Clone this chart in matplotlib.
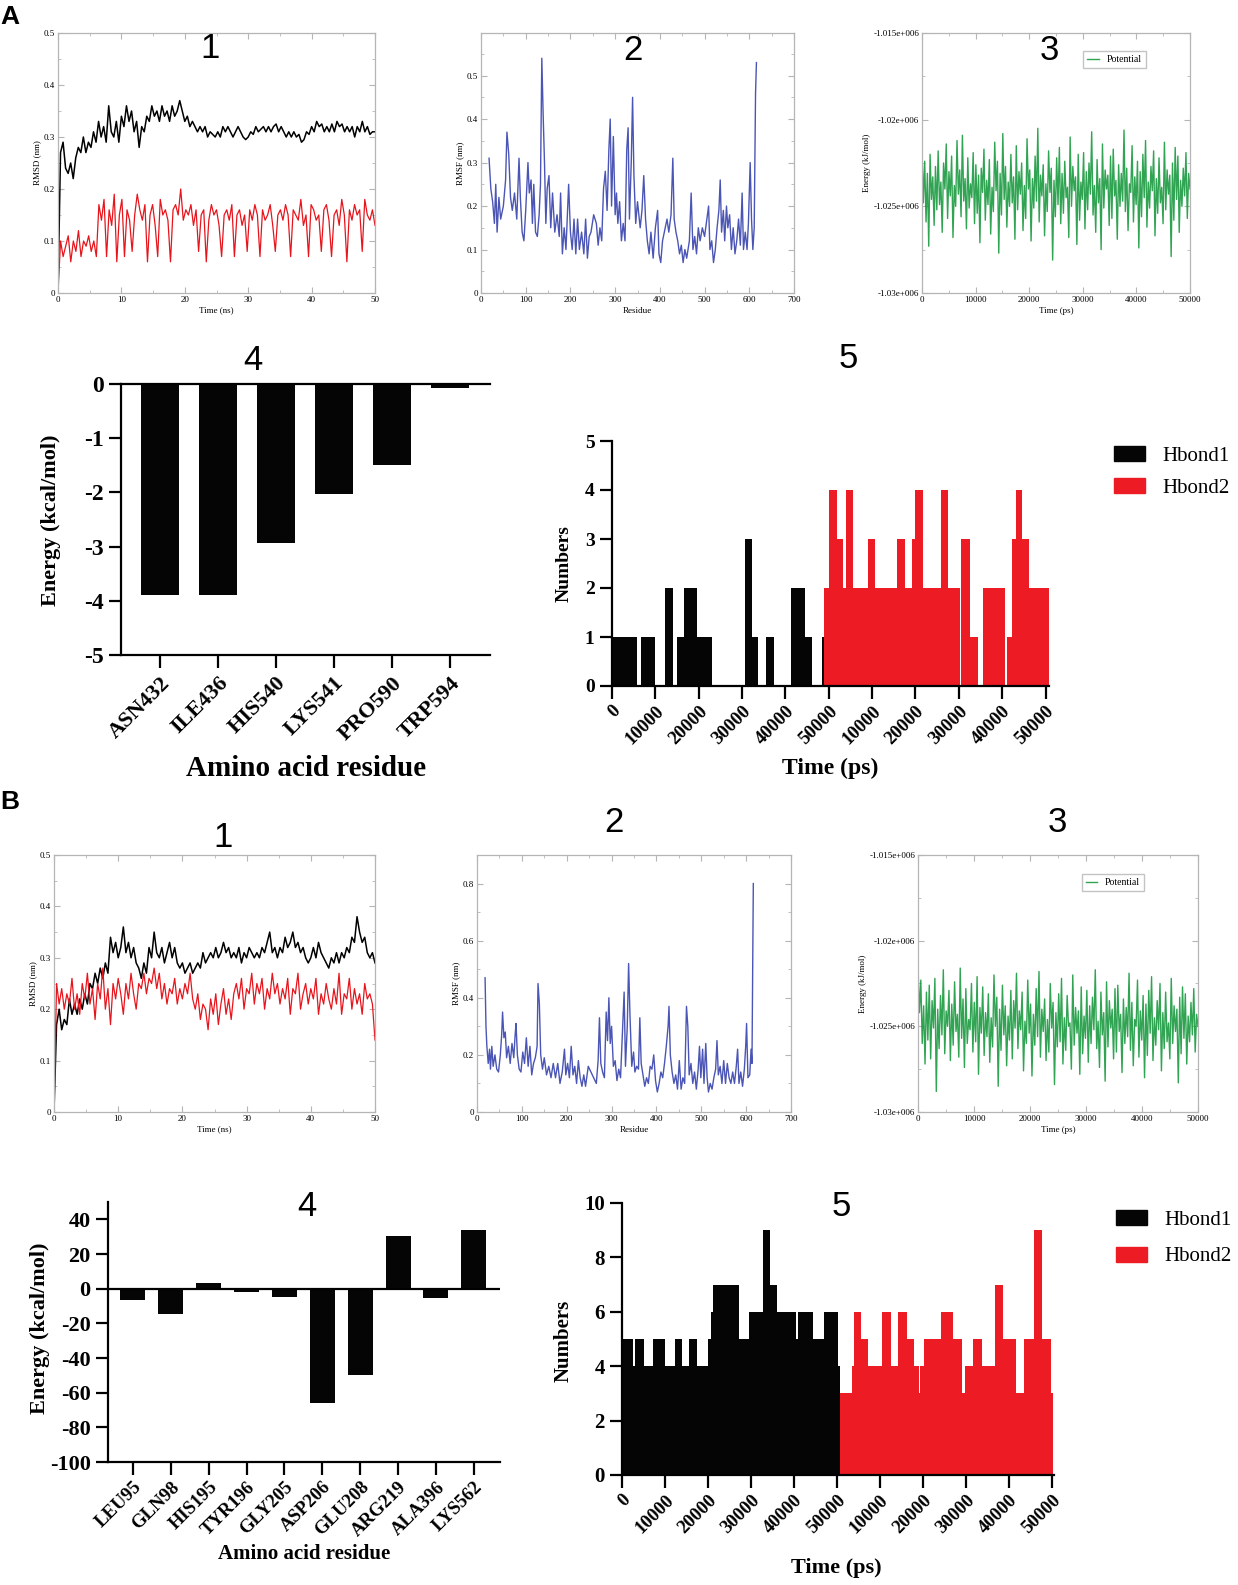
import numpy as np
import matplotlib
matplotlib.use('Agg')
import matplotlib.pyplot as plt
from matplotlib.ticker import MultipleLocator, FuncFormatter
from matplotlib.patches import Patch

# ---------------- data ----------------
# A1 RMSD (nm), 0-50 ns
a1_black = [0.00, 0.27, 0.29, 0.24, 0.23, 0.25, 0.22, 0.26, 0.28, 0.27, 0.30, 0.27, 0.29, 0.28, 0.31, 0.29,
            0.33, 0.30, 0.32, 0.29, 0.36, 0.31, 0.30, 0.33, 0.29, 0.34, 0.32, 0.36, 0.33, 0.35, 0.31, 0.33,
            0.28, 0.32, 0.31, 0.34, 0.33, 0.36, 0.34, 0.35, 0.33, 0.36, 0.34, 0.35, 0.33, 0.36, 0.34, 0.35,
            0.37, 0.35, 0.33, 0.34, 0.32, 0.33, 0.32, 0.31, 0.32, 0.31, 0.32, 0.30, 0.31, 0.305, 0.30, 0.31,
            0.30, 0.32, 0.31, 0.32, 0.31, 0.30, 0.31, 0.32, 0.31, 0.30, 0.295, 0.30, 0.31, 0.305, 0.32, 0.31,
            0.315, 0.32, 0.31, 0.32, 0.31, 0.32, 0.325, 0.31, 0.32, 0.31, 0.30, 0.31, 0.30, 0.31, 0.30, 0.305,
            0.29, 0.295, 0.31, 0.305, 0.32, 0.31, 0.33, 0.32, 0.325, 0.31, 0.32, 0.31, 0.325, 0.31, 0.33, 0.32,
            0.325, 0.31, 0.32, 0.31, 0.32, 0.30, 0.32, 0.31, 0.33, 0.31, 0.32, 0.305, 0.31, 0.31]
a1_red = [0.00, 0.10, 0.07, 0.09, 0.11, 0.06, 0.10, 0.08, 0.12, 0.07, 0.10, 0.09, 0.11, 0.08, 0.10, 0.07,
          0.17, 0.14, 0.18, 0.07, 0.16, 0.13, 0.19, 0.06, 0.15, 0.18, 0.07, 0.16, 0.14, 0.08, 0.15, 0.19,
          0.16, 0.14, 0.17, 0.06, 0.15, 0.17, 0.13, 0.07, 0.18, 0.15, 0.16, 0.14, 0.06, 0.16, 0.17, 0.15,
          0.20, 0.14, 0.16, 0.15, 0.17, 0.13, 0.16, 0.08, 0.15, 0.16, 0.06, 0.14, 0.17, 0.15, 0.16, 0.13,
          0.07, 0.15, 0.16, 0.14, 0.17, 0.07, 0.15, 0.16, 0.13, 0.15, 0.08, 0.16, 0.14, 0.17, 0.15, 0.07,
          0.16, 0.14, 0.15, 0.17, 0.13, 0.08, 0.15, 0.16, 0.14, 0.17, 0.15, 0.07, 0.16, 0.15, 0.14, 0.18,
          0.13, 0.15, 0.07, 0.17, 0.16, 0.14, 0.15, 0.08, 0.16, 0.17, 0.14, 0.07, 0.15, 0.16, 0.13, 0.18,
          0.15, 0.06, 0.16, 0.14, 0.17, 0.15, 0.16, 0.08, 0.18, 0.15, 0.14, 0.16, 0.13]

# A2 RMSF (nm) per residue
a2_res = [18, 22, 26, 30, 33, 36, 40, 44, 50, 55, 58, 62, 66, 70, 75, 80, 85, 88, 92, 96, 100, 105, 108, 112,
          115, 118, 122, 126, 130, 133, 136, 139, 142, 145, 148, 152, 156, 160, 165, 170, 175, 178, 182, 186,
          190, 196, 200, 204, 208, 212, 216, 220, 225, 230, 234, 238, 242, 246, 252, 258, 262, 266, 270, 274,
          278, 282, 286, 289, 292, 296, 300, 303, 306, 310, 314, 318, 322, 326, 329, 332, 336, 339, 342, 346,
          350, 356, 360, 364, 368, 372, 376, 380, 385, 390, 395, 398, 402, 406, 410, 416, 420, 425, 429, 432,
          436, 440, 444, 448, 452, 456, 460, 466, 470, 474, 478, 482, 486, 490, 495, 500, 505, 509, 512, 516,
          520, 524, 528, 532, 535, 538, 542, 545, 549, 552, 556, 560, 564, 568, 572, 576, 580, 584, 587, 591,
          595, 598, 602, 605, 608, 611, 614, 616]
a2_rmsf = [0.31, 0.24, 0.21, 0.16, 0.25, 0.14, 0.22, 0.17, 0.20, 0.26, 0.37, 0.32, 0.22, 0.19, 0.23, 0.17,
           0.31, 0.22, 0.14, 0.12, 0.19, 0.30, 0.23, 0.26, 0.16, 0.25, 0.14, 0.13, 0.18, 0.25, 0.54, 0.41,
           0.30, 0.16, 0.24, 0.27, 0.15, 0.23, 0.14, 0.18, 0.13, 0.23, 0.09, 0.15, 0.10, 0.25, 0.14, 0.10,
           0.17, 0.09, 0.17, 0.10, 0.14, 0.09, 0.17, 0.08, 0.13, 0.14, 0.18, 0.16, 0.11, 0.15, 0.12, 0.24,
           0.28, 0.19, 0.33, 0.40, 0.20, 0.36, 0.18, 0.23, 0.16, 0.21, 0.12, 0.16, 0.12, 0.33, 0.38, 0.17,
           0.30, 0.45, 0.27, 0.16, 0.21, 0.15, 0.19, 0.27, 0.17, 0.12, 0.09, 0.14, 0.08, 0.15, 0.19, 0.09,
           0.07, 0.12, 0.14, 0.17, 0.14, 0.18, 0.31, 0.17, 0.14, 0.12, 0.09, 0.11, 0.07, 0.10, 0.08, 0.12,
           0.23, 0.10, 0.13, 0.09, 0.15, 0.12, 0.15, 0.13, 0.17, 0.20, 0.10, 0.12, 0.07, 0.10, 0.15, 0.19,
           0.26, 0.14, 0.19, 0.12, 0.20, 0.15, 0.18, 0.10, 0.15, 0.09, 0.12, 0.17, 0.11, 0.23, 0.10, 0.14,
           0.10, 0.16, 0.30, 0.17, 0.10, 0.15, 0.46, 0.53]

# A3 potential energy (1000 kJ/mol), 0-50000 ps
a3_pot = [-1021.6, -1024.8, -1022.4, -1025.9, -1023.1, -1027.3, -1022.0, -1024.6, -1023.3, -1026.1,
          -1022.7, -1025.2, -1021.8, -1024.9, -1023.6, -1026.5, -1022.5, -1024.0, -1021.4, -1025.7,
          -1023.0, -1024.4, -1022.1, -1026.8, -1023.8, -1025.0, -1021.2, -1024.3, -1022.9, -1025.6,
          -1020.9, -1024.7, -1023.4, -1026.3, -1022.2, -1025.1, -1023.7, -1024.5, -1021.9, -1026.0,
          -1022.6, -1025.4, -1023.2, -1027.1, -1022.8, -1024.2, -1021.7, -1025.8, -1023.5, -1024.9,
          -1022.3, -1026.6, -1023.9, -1025.3, -1021.3, -1024.1, -1022.4, -1027.7, -1023.1, -1025.5,
          -1020.8, -1024.6, -1022.7, -1026.2, -1023.6, -1025.0, -1022.0, -1024.8, -1023.3, -1026.9,
          -1021.5, -1025.2, -1023.0, -1024.3, -1022.5, -1026.4, -1023.8, -1025.7, -1021.1, -1024.0,
          -1022.9, -1027.0, -1023.4, -1025.1, -1022.1, -1024.7, -1020.5, -1025.9, -1023.2, -1024.4,
          -1022.6, -1026.7, -1023.7, -1025.3, -1021.8, -1024.2, -1022.8, -1028.1, -1023.5, -1025.6,
          -1022.2, -1024.9, -1021.6, -1026.0, -1023.1, -1025.4, -1022.4, -1024.5, -1023.9, -1026.8,
          -1021.0, -1025.0, -1022.7, -1024.1, -1023.3, -1027.2, -1022.0, -1025.8, -1023.6, -1024.6,
          -1021.9, -1026.3, -1023.0, -1025.2, -1022.5, -1024.3, -1020.7, -1025.5, -1023.8, -1026.5,
          -1022.3, -1024.8, -1023.4, -1027.5, -1021.4, -1025.1, -1022.9, -1024.0, -1023.2, -1026.1,
          -1022.1, -1025.7, -1021.7, -1024.4, -1023.5, -1026.9, -1022.6, -1025.0, -1023.1, -1024.7,
          -1020.6, -1025.3, -1022.8, -1026.4, -1023.7, -1024.2, -1021.5, -1025.9, -1023.3, -1024.9,
          -1022.4, -1027.4, -1023.0, -1025.6, -1022.0, -1024.5, -1021.2, -1026.2, -1023.6, -1025.1,
          -1022.7, -1024.1, -1021.8, -1026.7, -1023.4, -1025.4, -1022.2, -1024.8, -1023.9, -1026.0,
          -1021.3, -1025.2, -1022.9, -1024.3, -1023.2, -1027.9, -1022.5, -1025.8, -1021.6, -1024.6,
          -1022.1, -1026.5, -1023.5, -1025.0, -1022.8, -1024.4, -1021.9, -1025.7, -1023.1, -1024.0]

# A4 per-residue binding energy (kcal/mol)
a4_names = ['ASN432', 'ILE436', 'HIS540', 'LYS541', 'PRO590', 'TRP594']
a4_energy = [-3.89, -3.90, -2.93, -2.03, -1.50, -0.08]

# A5 hydrogen bond counts (step edges in ps, Hbond2 shifted by 50000 ps)
a5_hb1_edges = [0, 5700, 6800, 9900, 12200, 14100, 14900, 16700, 19500, 23100, 30600, 32400, 33600,
                35500, 37300, 41400, 44500, 46200, 48400, 50200]
a5_hb1_counts = [1, 0, 1, 0, 2, 0, 1, 2, 1, 0, 3, 1, 0, 1, 0, 2, 1, 0, 1]
a5_hb2_edges = [49000, 50000, 51900, 53300, 53900, 55700, 59000, 60700, 65800, 67600, 69200, 69900, 71700,
                75900, 77600, 80300, 80500, 82600, 84500, 85500, 90700, 91100, 92200, 93300, 94500, 96100,
                100700]
a5_hb2_counts = [2, 4, 3, 2, 4, 2, 3, 2, 3, 2, 3, 4, 2, 4, 2, 0, 3, 1, 0, 2, 0, 1, 3, 4, 3, 2]

# B1 RMSD (nm)
b1_black = [0.00, 0.17, 0.20, 0.16, 0.18, 0.17, 0.22, 0.19, 0.21, 0.19, 0.22, 0.20, 0.23, 0.21, 0.25, 0.24,
            0.27, 0.25, 0.28, 0.26, 0.29, 0.27, 0.34, 0.31, 0.33, 0.30, 0.32, 0.36, 0.31, 0.33, 0.30, 0.32,
            0.29, 0.28, 0.26, 0.29, 0.27, 0.32, 0.30, 0.35, 0.31, 0.30, 0.32, 0.29, 0.31, 0.33, 0.30, 0.32,
            0.29, 0.28, 0.29, 0.27, 0.28, 0.29, 0.27, 0.28, 0.29, 0.28, 0.31, 0.29, 0.30, 0.31, 0.30, 0.32,
            0.30, 0.31, 0.33, 0.31, 0.32, 0.30, 0.31, 0.30, 0.32, 0.29, 0.31, 0.30, 0.32, 0.31, 0.30, 0.31,
            0.30, 0.32, 0.31, 0.33, 0.35, 0.31, 0.32, 0.30, 0.32, 0.31, 0.34, 0.32, 0.33, 0.35, 0.32, 0.33,
            0.31, 0.32, 0.30, 0.29, 0.30, 0.32, 0.30, 0.33, 0.31, 0.30, 0.29, 0.28, 0.30, 0.29, 0.31, 0.29,
            0.31, 0.30, 0.32, 0.31, 0.34, 0.33, 0.38, 0.35, 0.33, 0.34, 0.31, 0.30, 0.31, 0.29]
b1_red = [0.00, 0.25, 0.21, 0.24, 0.20, 0.23, 0.21, 0.26, 0.20, 0.23, 0.19, 0.25, 0.22, 0.27, 0.21, 0.24,
          0.18, 0.25, 0.22, 0.28, 0.20, 0.24, 0.17, 0.25, 0.22, 0.26, 0.23, 0.19, 0.25, 0.22, 0.27, 0.23,
          0.20, 0.25, 0.24, 0.27, 0.23, 0.26, 0.25, 0.28, 0.24, 0.27, 0.22, 0.25, 0.21, 0.24, 0.23, 0.26,
          0.21, 0.24, 0.22, 0.25, 0.23, 0.27, 0.22, 0.20, 0.23, 0.18, 0.21, 0.20, 0.16, 0.22, 0.19, 0.23,
          0.17, 0.21, 0.24, 0.19, 0.22, 0.18, 0.23, 0.25, 0.22, 0.26, 0.20, 0.24, 0.23, 0.27, 0.21, 0.25,
          0.23, 0.26, 0.20, 0.24, 0.22, 0.27, 0.23, 0.25, 0.21, 0.24, 0.22, 0.26, 0.19, 0.24, 0.23, 0.27,
          0.20, 0.23, 0.25, 0.21, 0.24, 0.22, 0.26, 0.19, 0.23, 0.21, 0.25, 0.22, 0.20, 0.24, 0.21, 0.27,
          0.19, 0.23, 0.22, 0.26, 0.20, 0.24, 0.21, 0.23, 0.19, 0.25, 0.22, 0.23, 0.21, 0.14]

# B2 RMSF (nm)
b2_res = [18, 20, 22, 25, 28, 30, 33, 36, 40, 44, 48, 52, 55, 57, 60, 63, 66, 70, 74, 78, 82, 85, 87, 90,
          94, 98, 102, 106, 110, 114, 118, 122, 126, 130, 134, 136, 139, 142, 146, 150, 155, 160, 165, 170,
          175, 180, 185, 190, 195, 198, 202, 206, 210, 214, 218, 222, 226, 230, 234, 238, 242, 248, 254, 260,
          266, 270, 273, 276, 280, 284, 288, 291, 294, 297, 300, 304, 308, 312, 316, 320, 324, 328, 331, 335,
          338, 341, 345, 349, 352, 356, 360, 363, 366, 370, 374, 378, 382, 386, 390, 394, 398, 402, 406, 410,
          414, 418, 422, 426, 428, 431, 435, 439, 443, 447, 451, 455, 459, 463, 467, 470, 473, 477, 481, 485,
          489, 493, 496, 499, 503, 506, 510, 513, 516, 520, 524, 528, 532, 535, 538, 542, 546, 550, 554, 558,
          562, 566, 570, 574, 578, 581, 584, 588, 592, 596, 599, 601, 604, 608, 611, 613, 616]
b2_rmsf = [0.47, 0.30, 0.23, 0.17, 0.22, 0.15, 0.23, 0.16, 0.20, 0.15, 0.14, 0.20, 0.27, 0.35, 0.26, 0.28,
           0.19, 0.23, 0.17, 0.24, 0.19, 0.27, 0.31, 0.20, 0.15, 0.14, 0.21, 0.17, 0.26, 0.16, 0.23, 0.13,
           0.17, 0.19, 0.23, 0.45, 0.38, 0.20, 0.15, 0.19, 0.13, 0.16, 0.12, 0.17, 0.12, 0.17, 0.10, 0.14,
           0.22, 0.13, 0.17, 0.12, 0.23, 0.13, 0.16, 0.10, 0.18, 0.12, 0.09, 0.13, 0.09, 0.16, 0.14, 0.12,
           0.10, 0.18, 0.33, 0.17, 0.14, 0.12, 0.35, 0.25, 0.40, 0.24, 0.30, 0.16, 0.18, 0.11, 0.15, 0.12,
           0.27, 0.42, 0.16, 0.30, 0.52, 0.34, 0.16, 0.21, 0.14, 0.16, 0.15, 0.33, 0.17, 0.13, 0.09, 0.12,
           0.10, 0.16, 0.15, 0.20, 0.11, 0.07, 0.10, 0.14, 0.12, 0.17, 0.23, 0.30, 0.37, 0.20, 0.14, 0.10,
           0.13, 0.08, 0.18, 0.08, 0.12, 0.10, 0.37, 0.30, 0.13, 0.17, 0.10, 0.14, 0.08, 0.15, 0.23, 0.12,
           0.22, 0.10, 0.24, 0.12, 0.07, 0.10, 0.08, 0.12, 0.15, 0.25, 0.13, 0.16, 0.10, 0.18, 0.10, 0.17,
           0.12, 0.10, 0.14, 0.10, 0.16, 0.22, 0.10, 0.14, 0.09, 0.15, 0.23, 0.31, 0.12, 0.13, 0.22, 0.17,
           0.80]

# B3 potential energy (1000 kJ/mol)
b3_pot = [-1021.5, -1024.2, -1022.3, -1026.0, -1023.8, -1027.2, -1023.0, -1025.8, -1022.6, -1026.9,
          -1023.5, -1025.1, -1022.2, -1028.8, -1024.0, -1026.3, -1023.2, -1025.5, -1021.7, -1026.6,
          -1024.1, -1025.0, -1022.9, -1027.0, -1023.7, -1026.1, -1022.4, -1025.3, -1024.3, -1026.8,
          -1021.6, -1025.7, -1023.4, -1027.4, -1022.8, -1026.0, -1024.6, -1025.2, -1022.5, -1026.5,
          -1023.6, -1025.9, -1022.1, -1027.8, -1023.9, -1025.4, -1022.7, -1026.7, -1024.2, -1025.6,
          -1023.1, -1027.1, -1024.5, -1026.2, -1022.0, -1025.0, -1023.3, -1028.5, -1024.0, -1026.4,
          -1022.6, -1025.5, -1023.8, -1027.3, -1024.4, -1025.8, -1022.9, -1026.9, -1023.5, -1025.1,
          -1021.9, -1026.3, -1024.1, -1025.2, -1023.0, -1027.6, -1024.7, -1026.0, -1022.3, -1025.4,
          -1023.7, -1027.9, -1024.3, -1026.1, -1022.8, -1025.6, -1021.8, -1026.8, -1024.0, -1025.3,
          -1023.4, -1027.0, -1024.6, -1026.5, -1022.5, -1025.1, -1023.6, -1028.4, -1024.2, -1026.2,
          -1023.1, -1025.9, -1022.2, -1027.2, -1024.5, -1026.4, -1023.2, -1025.0, -1024.8, -1027.5,
          -1022.0, -1026.1, -1023.9, -1025.4, -1024.1, -1027.8, -1022.7, -1026.6, -1024.4, -1025.7,
          -1022.9, -1027.1, -1023.8, -1026.0, -1023.3, -1025.2, -1021.7, -1026.3, -1024.7, -1027.4,
          -1023.0, -1025.5, -1024.2, -1028.2, -1022.4, -1026.2, -1023.5, -1025.1, -1024.0, -1026.9,
          -1022.8, -1026.5, -1022.6, -1025.3, -1024.3, -1027.7, -1023.4, -1026.0, -1023.9, -1025.6,
          -1021.9, -1026.4, -1023.6, -1027.3, -1024.6, -1025.0, -1022.3, -1026.8, -1024.1, -1025.8,
          -1023.2, -1028.0, -1023.7, -1026.7, -1022.9, -1025.4, -1022.1, -1027.0, -1024.5, -1026.1,
          -1023.5, -1025.2, -1022.5, -1027.6, -1024.2, -1026.3, -1023.0, -1025.9, -1024.8, -1026.9,
          -1022.2, -1026.0, -1023.8, -1025.3, -1024.0, -1028.3, -1023.3, -1026.6, -1022.7, -1025.7,
          -1023.1, -1027.2, -1024.4, -1025.9, -1023.6, -1025.5, -1022.8, -1026.5, -1024.3, -1025.0]

# B4 per-residue binding energy (kcal/mol)
b4_names = ['LEU95', 'GLN98', 'HIS195', 'TYR196', 'GLY205', 'ASP206', 'GLU208', 'ARG219', 'ALA396', 'LYS562']
b4_energy = [-6.7, -14.8, 3.3, -2.1, -4.6, -66.2, -49.9, 30.6, -5.4, 33.9]

# B5 hydrogen bond counts
b5_hb1_edges = [0, 2500, 3000, 5100, 7200, 9900, 12300, 14000, 15700, 17500, 19900, 20600, 21200, 27300,
                29600, 32700, 34500, 36100, 40400, 40900, 44500, 46900, 50200, 50700]
b5_hb1_counts = [5, 4, 5, 4, 5, 4, 5, 4, 5, 4, 5, 6, 7, 5, 6, 9, 7, 6, 5, 6, 5, 6, 4]
b5_hb2_edges = [50700, 53400, 53900, 55500, 57300, 60500, 62600, 64200, 66200, 68000, 69100, 69300, 70200,
                74100, 76900, 79000, 79700, 81700, 83800, 86700, 88600, 91600, 93500, 95800, 97700, 99800,
                100300]
b5_hb2_counts = [3, 4, 6, 5, 4, 6, 4, 6, 5, 4, 3, 4, 5, 6, 5, 3, 4, 5, 4, 7, 5, 3, 5, 9, 5, 3]

hb_ticks = [0, 10000, 20000, 30000, 40000, 50000, 60000, 70000, 80000, 90000, 100000]
hb_ticklabels = ['0', '10000', '20000', '30000', '40000', '50000', '10000', '20000', '30000', '40000', '50000']

# ---------------- figure ----------------
W, H = 1238, 1585
plt.rcParams['font.family'] = 'Liberation Serif'
SANS = 'Liberation Sans'
GRAY = '#b5b5b5'
RED = '#ed1c24'
GREEN = '#1a9a40'
fig = plt.figure(figsize=(W / 100, H / 100), dpi=100)


def box(x0, y0, x1, y1):
    return fig.add_axes([x0 / W, 1 - y1 / H, (x1 - x0) / W, (y1 - y0) / H])


def grace(ax, xlim, ylim, xstep, ystep, xlab, ylab, yfmt=None):
    ax.set_xlim(*xlim)
    ax.set_ylim(*ylim)
    ax.xaxis.set_major_locator(MultipleLocator(xstep))
    ax.xaxis.set_minor_locator(MultipleLocator(xstep / 2))
    ax.yaxis.set_major_locator(MultipleLocator(ystep))
    ax.yaxis.set_minor_locator(MultipleLocator(ystep / 2))
    ax.xaxis.set_major_formatter(FuncFormatter(lambda v, p: '%g' % round(v, 6)))
    ax.yaxis.set_major_formatter(yfmt or FuncFormatter(lambda v, p: '%g' % round(v, 6)))
    for s in ax.spines.values():
        s.set_color(GRAY)
        s.set_linewidth(0.9)
    ax.tick_params(which='both', direction='in', top=True, right=True, color=GRAY,
                   labelsize=6.5, pad=2)
    ax.tick_params(which='major', length=4)
    ax.tick_params(which='minor', length=2)
    ax.set_xlabel(xlab, fontsize=6.5, labelpad=2)
    ax.set_ylabel(ylab, fontsize=6.5, labelpad=2)


def prism(ax):
    ax.spines['right'].set_visible(False)
    for s in ('left', 'bottom', 'top'):
        ax.spines[s].set_linewidth(1.6)
    ax.tick_params(direction='out', length=9, width=1.6)


def title(x, y, s, size=25):
    fig.text(x / W, 1 - y / H, s, ha='center', va='center', fontsize=size, family=SANS)


def label(x, y, s, size, rot=0):
    fig.text(x / W, 1 - y / H, s, ha='center', va='center', fontsize=size,
             fontweight='bold', rotation=rot)


energy_fmt = FuncFormatter(lambda v, p: '%ge+006' % round(v / 1e6, 4))

# ---- A1 ----
ax = box(58, 33, 375, 293)
ax.plot(np.linspace(0, 50, len(a1_black)), a1_black, color='black', lw=1.1)
ax.plot(np.linspace(0, 50, len(a1_red)), a1_red, color='#e8141c', lw=0.9)
grace(ax, (0, 50), (0, 0.5), 10, 0.1, 'Time (ns)', 'RMSD (nm)')

# ---- A2 ----
ax = box(481, 33, 794, 293)
ax.plot(a2_res, a2_rmsf, color='#4b55b5', lw=1.0)
grace(ax, (0, 700), (0, 0.598), 100, 0.1, 'Residue', 'RMSF (nm)')

# ---- A3 ----
ax = box(922, 33, 1190, 293)
ax.plot(np.linspace(0, 50000, len(a3_pot)), np.array(a3_pot) * 1000, color=GREEN, lw=1.0, alpha=0.9,
        label='Potential')
grace(ax, (0, 50000), (-1.03e6, -1.015e6), 10000, 5000, 'Time (ps)', 'Energy (kJ/mol)', energy_fmt)
ax.legend(loc='upper right', bbox_to_anchor=(0.835, 0.93), fontsize=7, frameon=True, fancybox=False,
          edgecolor=GRAY, handlelength=1.2, borderaxespad=0)

# ---- A4 ----
ax = box(121, 384, 490, 655)
ax.bar(range(len(a4_names)), a4_energy, width=0.66, color='#050505')
ax.set_xlim(-0.67, len(a4_names) - 0.31)
ax.set_ylim(-5, 0)
prism(ax)
ax.set_yticks(range(-5, 1))
ax.set_yticklabels([str(v) for v in range(-5, 1)], fontweight='bold', fontsize=17)
ax.set_xticks(range(len(a4_names)))
ax.set_xticklabels(a4_names, rotation=45, ha='right', rotation_mode='anchor', fontweight='bold', fontsize=16)
ax.tick_params(axis='x', pad=4)
title(253, 360, '4')
label(306, 768, 'Amino acid residue', 21)
label(51, 520, 'Energy (kcal/mol)', 16, rot=90)

# ---- A5 ----
ax = box(612, 441, 1049, 686)
ax.stairs(a5_hb1_counts, a5_hb1_edges, fill=True, color='#050505', lw=0)
ax.stairs(a5_hb2_counts, a5_hb2_edges, fill=True, color=RED, lw=0)
ax.set_xlim(0, 100800)
ax.set_ylim(0, 5)
prism(ax)
ax.spines['top'].set_visible(False)
ax.set_yticks(range(0, 6))
ax.set_yticklabels([str(v) for v in range(0, 6)], fontweight='bold', fontsize=14)
ax.set_xticks(hb_ticks)
ax.set_xticklabels(hb_ticklabels, rotation=45, ha='right', rotation_mode='anchor', fontweight='bold', fontsize=13.5)
ax.tick_params(axis='x', pad=3)
title(848, 358, '5')
label(830, 768, 'Time (ps)', 17)
label(564, 564, 'Numbers', 14, rot=90)
fig.legend(handles=[Patch(color='#050505', label='Hbond1'), Patch(color=RED, label='Hbond2')],
           loc='upper left', bbox_to_anchor=(1114 / W, 1 - 446 / H), frameon=False,
           prop={'size': 15}, handlelength=1.5, handleheight=0.7, handletextpad=0.8,
           labelspacing=0.6, borderpad=0, borderaxespad=0)

# ---- B1 ----
ax = box(54, 855, 375, 1112)
ax.plot(np.linspace(0, 50, len(b1_black)), b1_black, color='black', lw=1.1)
ax.plot(np.linspace(0, 50, len(b1_red)), b1_red, color='#e8141c', lw=0.9)
grace(ax, (0, 50), (0, 0.5), 10, 0.1, 'Time (ns)', 'RMSD (nm)')

# ---- B2 ----
ax = box(477, 855, 791, 1112)
ax.plot(b2_res, b2_rmsf, color='#4b55b5', lw=1.0)
grace(ax, (0, 700), (0, 0.9), 100, 0.2, 'Residue', 'RMSF (nm)')

# ---- B3 ----
ax = box(918, 855, 1198, 1112)
ax.plot(np.linspace(0, 50000, len(b3_pot)), np.array(b3_pot) * 1000, color=GREEN, lw=1.0, alpha=0.9,
        label='Potential')
grace(ax, (0, 50000), (-1.03e6, -1.015e6), 10000, 5000, 'Time (ps)', 'Energy (kJ/mol)', energy_fmt)
ax.legend(loc='upper right', bbox_to_anchor=(0.807, 0.926), fontsize=7, frameon=True, fancybox=False,
          edgecolor=GRAY, handlelength=1.2, borderaxespad=0)

# ---- B4 ----
ax = box(108, 1202, 500, 1462)
ax.bar(range(len(b4_names)), b4_energy, width=0.66, color='#050505')
ax.axhline(0, color='black', lw=1.6)
ax.set_xlim(-0.66, len(b4_names) - 0.31)
ax.set_ylim(-100, 50)
prism(ax)
ax.spines['top'].set_visible(False)
ax.set_yticks(range(-100, 41, 20))
ax.set_yticklabels([str(v) for v in range(-100, 41, 20)], fontweight='bold', fontsize=16)
ax.set_xticks(range(len(b4_names)))
ax.set_xticklabels(b4_names, rotation=45, ha='right', rotation_mode='anchor', fontweight='bold', fontsize=13.5)
ax.tick_params(axis='x', pad=3)
title(307, 1207, '4')
label(304, 1554, 'Amino acid residue', 15)
label(40, 1328, 'Energy (kcal/mol)', 16, rot=90)

# ---- B5 ----
ax = box(622, 1203, 1054, 1475)
ax.stairs(b5_hb1_counts, b5_hb1_edges, fill=True, color='#050505', lw=0)
ax.stairs(b5_hb2_counts, b5_hb2_edges, fill=True, color=RED, lw=0)
ax.set_xlim(0, 100500)
ax.set_ylim(0, 10)
prism(ax)
ax.spines['top'].set_visible(False)
ax.set_yticks(range(0, 11, 2))
ax.set_yticklabels([str(v) for v in range(0, 11, 2)], fontweight='bold', fontsize=15)
ax.set_xticks(hb_ticks)
ax.set_xticklabels(hb_ticklabels, rotation=45, ha='right', rotation_mode='anchor', fontweight='bold', fontsize=13.5)
ax.tick_params(axis='x', pad=3)
title(841, 1207, '5')
label(836, 1568, 'Time (ps)', 16)
label(564, 1341, 'Numbers', 15, rot=90)
fig.legend(handles=[Patch(color='#050505', label='Hbond1'), Patch(color=RED, label='Hbond2')],
           loc='upper left', bbox_to_anchor=(1116 / W, 1 - 1210 / H), frameon=False,
           prop={'size': 15}, handlelength=1.5, handleheight=0.75, handletextpad=0.8,
           labelspacing=0.8, borderpad=0, borderaxespad=0)

# ---- panel numbers / letters ----
title(210, 49, '1')
title(633, 50, '2')
title(1049, 50, '3')
title(223, 838, '1')
title(614, 823, '2')
title(1057, 823, '3')
fig.text(10 / W, 1 - 17 / H, 'A', ha='center', va='center', fontsize=19, fontweight='bold', family=SANS)
fig.text(10 / W, 1 - 802 / H, 'B', ha='center', va='center', fontsize=19, fontweight='bold', family=SANS)

fig.savefig('out.png', dpi=100)
